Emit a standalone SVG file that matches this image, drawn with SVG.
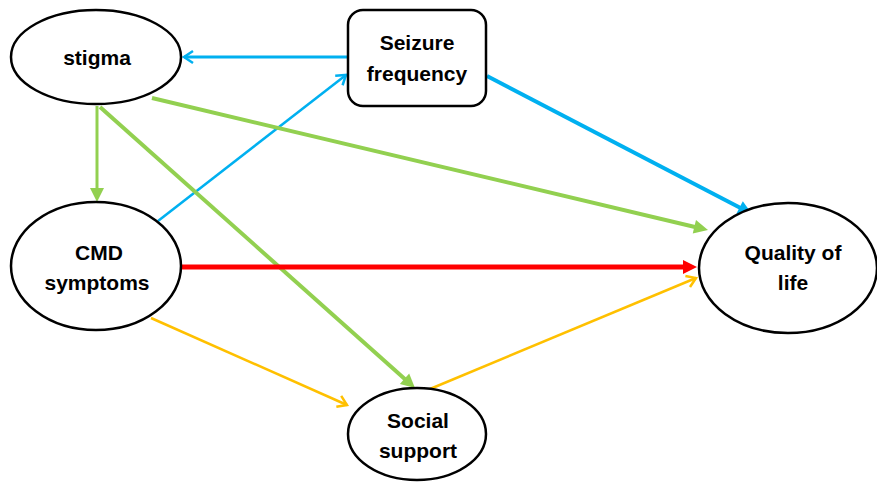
<svg xmlns="http://www.w3.org/2000/svg" width="877" height="483" viewBox="0 0 877 483">
<style>
.node{fill:#fff;stroke:#000;stroke-width:2.5}
.lbl{font-family:"Liberation Sans",Arial,sans-serif;font-weight:bold;font-size:21px;fill:#000;text-anchor:middle}
.c{fill:none;stroke-linecap:butt}
</style>
<defs>
<marker id="sBlue" markerUnits="userSpaceOnUse" markerWidth="14" markerHeight="14" refX="6" refY="7" orient="auto" overflow="visible"><path d="M0,0 L14,7 L0,14 Z" fill="#00B0F0"/></marker>
<marker id="sGreen" markerUnits="userSpaceOnUse" markerWidth="14" markerHeight="14" refX="6" refY="7" orient="auto" overflow="visible"><path d="M0,0 L14,7 L0,14 Z" fill="#92D050"/></marker>
<marker id="sRed" markerUnits="userSpaceOnUse" markerWidth="14" markerHeight="14" refX="6" refY="7" orient="auto" overflow="visible"><path d="M0,0 L14,7 L0,14 Z" fill="#FF0000"/></marker>
<marker id="oBlue" markerUnits="userSpaceOnUse" markerWidth="12" markerHeight="14" refX="10" refY="7" orient="auto" overflow="visible"><path d="M1,1 L10,7 L1,13" fill="none" stroke="#00B0F0" stroke-width="2.5"/></marker>
<marker id="oOrange" markerUnits="userSpaceOnUse" markerWidth="12" markerHeight="14" refX="10" refY="7" orient="auto" overflow="visible"><path d="M1,1 L10,7 L1,13" fill="none" stroke="#FFC000" stroke-width="2.5"/></marker>
</defs>
<rect width="877" height="483" fill="#fff"/>
<g id="connectors">
<line class="c" x1="348" y1="57" x2="184" y2="57" stroke="#00B0F0" stroke-width="3" marker-end="url(#oBlue)"/>
<line class="c" x1="158" y1="221" x2="346" y2="75" stroke="#00B0F0" stroke-width="2.5" marker-end="url(#oBlue)"/>
<line class="c" x1="487" y1="76" x2="744.9" y2="210.3" stroke="#00B0F0" stroke-width="4" marker-end="url(#sBlue)"/>
<line class="c" x1="152" y1="98" x2="700.2" y2="228.2" stroke="#92D050" stroke-width="4" marker-end="url(#sGreen)"/>
<line class="c" x1="97" y1="106" x2="97" y2="194" stroke="#92D050" stroke-width="3" marker-end="url(#sGreen)"/>
<line class="c" x1="100" y1="107" x2="409" y2="382.7" stroke="#92D050" stroke-width="4" marker-end="url(#sGreen)"/>
<line class="c" x1="182" y1="267" x2="689" y2="267" stroke="#FF0000" stroke-width="5" marker-end="url(#sRed)"/>
<line class="c" x1="151" y1="318" x2="347" y2="405" stroke="#FFC000" stroke-width="2.5" marker-end="url(#oOrange)"/>
<line class="c" x1="430" y1="389" x2="696" y2="278" stroke="#FFC000" stroke-width="2.5" marker-end="url(#oOrange)"/>
</g>
<g id="stigma">
<ellipse class="node" cx="96" cy="57" rx="85" ry="47"/>
<text class="lbl" x="97" y="65">stigma</text>
</g>
<g id="seizure">
<rect class="node" x="348" y="10" width="138" height="96" rx="15" ry="15"/>
<text class="lbl" x="417" y="50">Seizure</text>
<text class="lbl" x="417" y="81">frequency</text>
</g>
<g id="cmd">
<ellipse class="node" cx="96" cy="266" rx="85" ry="64"/>
<text class="lbl" x="99" y="260">CMD</text>
<text class="lbl" x="97" y="290">symptoms</text>
</g>
<g id="social">
<ellipse class="node" cx="417" cy="434" rx="69" ry="46"/>
<text class="lbl" x="418" y="428">Social</text>
<text class="lbl" x="418" y="458">support</text>
</g>
<g id="qol">
<ellipse class="node" cx="788" cy="268" rx="89" ry="65"/>
<text class="lbl" x="793" y="260">Quality of</text>
<text class="lbl" x="793" y="290">life</text>
</g>
</svg>
